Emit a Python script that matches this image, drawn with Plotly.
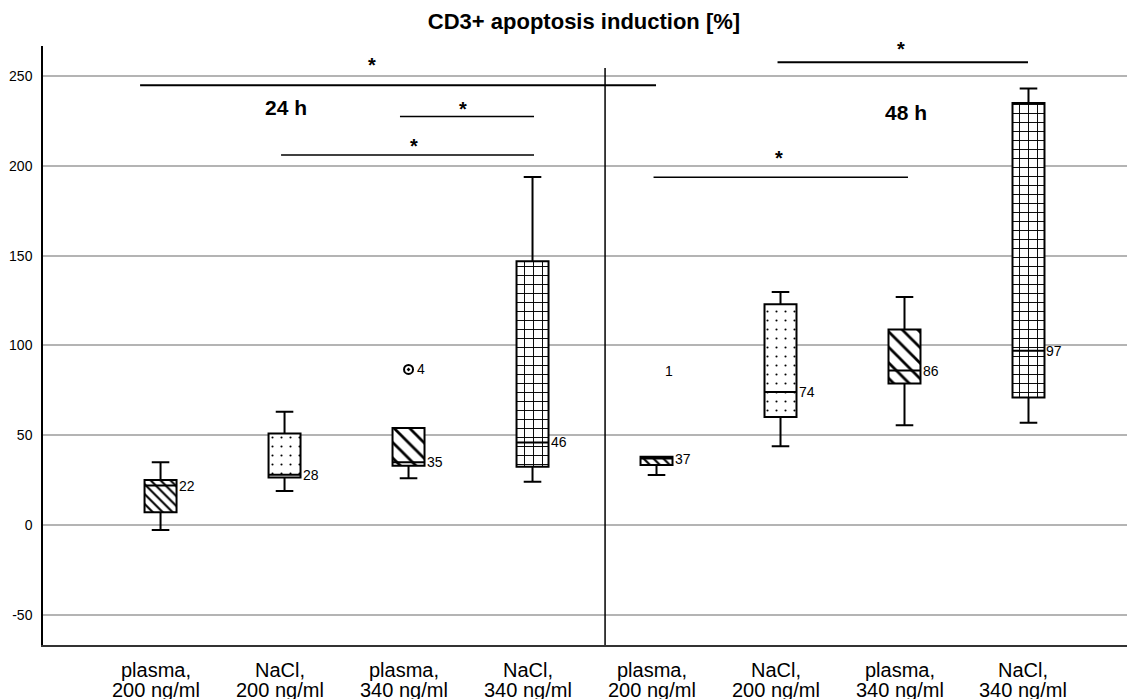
import plotly.graph_objects as go

# ---------------- data ----------------
groups = ["24 h plasma 200", "24 h NaCl 200", "24 h plasma 340", "24 h NaCl 340",
          "48 h plasma 200", "48 h NaCl 200", "48 h plasma 340", "48 h NaCl 340"]
label_line1 = ["plasma,", "NaCl,", "plasma,", "NaCl,", "plasma,", "NaCl,", "plasma,", "NaCl,"]
label_line2 = ["200 ng/ml", "200 ng/ml", "340 ng/ml", "340 ng/ml",
               "200 ng/ml", "200 ng/ml", "340 ng/ml", "340 ng/ml"]
lower_fence = [-2.8, 18.9, 26.0, 24.1, 27.8, 43.9, 55.6, 57.0]
q1 = [7.1, 26.4, 33.0, 32.4, 33.4, 60.2, 78.8, 71.0]
median = [22, 28, 35, 46, 37, 74, 86, 97]
q3 = [25.0, 51.0, 54.0, 146.9, 38.0, 122.9, 108.9, 234.9]
upper_fence = [34.9, 63.0, 54.0, 193.7, 38.0, 129.8, 127.0, 243.0]
median_labels = ["22", "28", "35", "46", "37", "74", "86", "97"]

outlier_group = [2, 4]
outlier_value = [86.6, 85.7]
outlier_label = ["4", "1"]

y_ticks = [-50, 0, 50, 100, 150, 200, 250]
y_tick_text = ["-50", "0", "50", "100", "150", "200", "250"]

# significance brackets: (x start, x end, y value, line width)
sig_lines = [(-0.165, 3.996, 244.8, 2.0), (1.931, 3.012, 227.4, 1.5), (0.972, 3.012, 206.0, 1.5),
             (4.976, 6.996, 257.7, 2.0), (3.976, 6.028, 193.6, 1.5)]
sig_stars = [(1.706, 255.9), (2.44, 231.4), (2.044, 210.8), (5.972, 264.8), (4.988, 204.2)]

# ---------------- styles ----------------
FONT = "Liberation Sans, Arial, sans-serif"
pat_shape = ["\\", ".", "\\", "+", "\\", ".", "\\", "+"]
pat_size = [7, 9, 11, 9, 7, 9, 11, 9]
pat_solid = [0.3, 0.045, 0.25, 0.2, 0.3, 0.045, 0.25, 0.2]
BOXW = 0.258

fig = go.Figure()

# patterned IQR fill
fig.add_trace(go.Bar(
    x=groups, y=[b - a for a, b in zip(q1, q3)], base=q1, width=BOXW,
    marker=dict(color="white", line=dict(width=0),
                pattern=dict(shape=pat_shape, size=pat_size, solidity=pat_solid,
                             fgcolor="black", bgcolor="white", fillmode="replace")),
    showlegend=False, hoverinfo="skip"))

# box outlines / whiskers / medians
fig.add_trace(go.Box(
    x=groups, q1=q1, median=median, q3=q3,
    lowerfence=lower_fence, upperfence=upper_fence,
    width=BOXW, whiskerwidth=0.55, boxpoints=False,
    fillcolor="rgba(0,0,0,0)", line=dict(color="black", width=2),
    showlegend=False))

# outliers
fig.add_trace(go.Scatter(
    x=[groups[i] for i in outlier_group], y=outlier_value, mode="markers",
    marker=dict(symbol=["circle-open-dot", "circle-open"], size=9,
                color=["black", "rgba(0,0,0,0)"], line=dict(width=2)),
    showlegend=False, hoverinfo="skip"))

annotations = []
for i, (lab, m) in enumerate(zip(median_labels, median)):
    annotations.append(dict(x=i, y=m, xref="x", yref="y", text=lab, showarrow=False,
                            xanchor="left", yanchor="middle", xshift=16,
                            font=dict(family=FONT, size=14, color="black")))
for g, v, lab in zip(outlier_group, outlier_value, outlier_label):
    annotations.append(dict(x=g, y=v, xref="x", yref="y", text=lab, showarrow=False,
                            xanchor="left", yanchor="middle", xshift=6,
                            font=dict(family=FONT, size=14, color="black")))
# category labels (two lines)
for i, (l1, l2) in enumerate(zip(label_line1, label_line2)):
    annotations.append(dict(x=i, y=0, xref="x", yref="paper", text=l1, showarrow=False,
                            xanchor="center", yanchor="middle", xshift=-5, yshift=-25,
                            font=dict(family=FONT, size=20, color="black")))
    annotations.append(dict(x=i, y=0, xref="x", yref="paper", text=l2, showarrow=False,
                            xanchor="center", yanchor="middle", xshift=-5, yshift=-45,
                            font=dict(family=FONT, size=20, color="black")))
# stars
for sx, sy in sig_stars:
    annotations.append(dict(x=sx, y=sy, xref="x", yref="y", text="<b>*</b>", showarrow=False,
                            xanchor="center", yanchor="middle",
                            font=dict(family=FONT, size=20, color="black")))
# time labels
annotations.append(dict(x=1.012, y=232.5, xref="x", yref="y", text="<b>24 h</b>", showarrow=False,
                        font=dict(family=FONT, size=21, color="black")))
annotations.append(dict(x=6.012, y=229.7, xref="x", yref="y", text="<b>48 h</b>", showarrow=False,
                        font=dict(family=FONT, size=21, color="black")))

shapes = []
for x0, x1, yv, w in sig_lines:
    shapes.append(dict(type="line", xref="x", yref="y", x0=x0, x1=x1, y0=yv, y1=yv,
                       line=dict(color="black", width=w)))
# separator between 24 h and 48 h
shapes.append(dict(type="line", xref="x", yref="y", x0=3.585, x1=3.585, y0=-66.8, y1=254.5,
                   line=dict(color="black", width=1.5)))

# the page body adds an 8 px offset; margins compensate for it
fig.update_layout(
    width=1135, height=699,
    margin=dict(l=35, r=8, t=38, b=62),
    paper_bgcolor="white", plot_bgcolor="white",
    barmode="overlay", boxmode="overlay",
    title=dict(text="<b>CD3+ apoptosis induction [%]</b>", x=576 / 1135, xref="container",
               y=1 - 13 / 699, yref="container", xanchor="center", yanchor="middle",
               font=dict(family=FONT, size=22, color="black")),
    annotations=annotations, shapes=shapes,
    font=dict(family=FONT, color="black"),
)
fig.update_xaxes(type="category", range=[-0.948, 7.859], showticklabels=False,
                 showgrid=False, zeroline=False, showline=True, linecolor="#333333",
                 linewidth=2, ticks="", automargin=False)
fig.update_yaxes(range=[-66.8, 266.7], tickvals=y_ticks, ticktext=y_tick_text, showgrid=True,
                 gridcolor="#b4b4b4", gridwidth=1.5, zeroline=False, showline=True,
                 linecolor="black", linewidth=1.5, ticks="", ticklabelstandoff=6,
                 automargin=False,
                 tickfont=dict(family=FONT, size=14, color="black"))

fig.write_html("out.html")
